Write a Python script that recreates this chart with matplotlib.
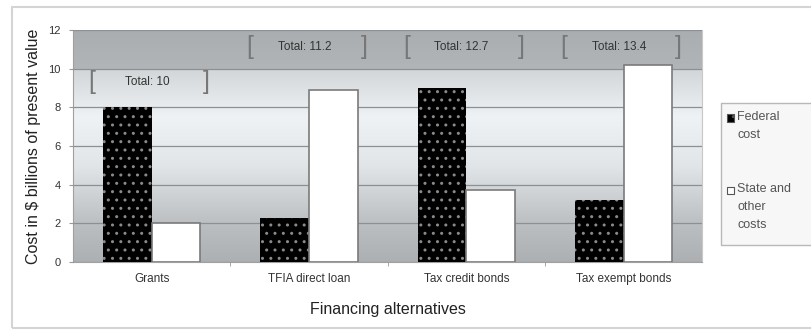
import numpy as np
import matplotlib
matplotlib.use("Agg")
from matplotlib import pyplot as plt
from matplotlib.patches import Rectangle

categories = ["Grants", "TFIA direct loan", "Tax credit bonds", "Tax exempt bonds"]
federal = [8.0, 2.3, 9.0, 3.2]
state_other = [2.0, 8.9, 3.7, 10.2]
totals = ["10", "11.2", "12.7", "13.4"]
total_y = [9.3, 11.15, 11.15, 11.15]
series_labels = ["Federal\ncost", "State and\nother\ncosts"]

plt.rcParams["font.family"] = ["Liberation Sans", "DejaVu Sans"]

W, H = 811, 331
fig = plt.figure(figsize=(W / 100, H / 100), dpi=100)

# outer chart frame (runs off the right edge, as in the source)
fig.patches.append(Rectangle((12 / W, 1 - 328 / H), 1.0, 321 / H, transform=fig.transFigure,
                             fill=False, edgecolor="#d4d4d4", linewidth=1.5))

ax = fig.add_axes([0.090, 0.2085, 0.776, 0.7005])

# grey gradient background (slightly bluish)
yy = np.linspace(0, 12, 400)
shade = np.interp(yy, [0, 2, 5, 7.5, 9.95, 10.0, 12], [0.69, 0.75, 0.90, 0.95, 0.84, 0.71, 0.68])
rgb = np.stack([shade - 0.015, shade, shade + 0.01], axis=-1).clip(0, 1)[:, None, :]
ax.imshow(rgb, extent=[-0.5, 3.5, 0, 12], origin="lower", aspect="auto", zorder=0)

x = np.arange(len(categories))
w = 0.31
fed_style = dict(facecolor="black", edgecolor="#8a8a8a", hatch="..", linewidth=0)
st_style = dict(facecolor="white", edgecolor="#7a7a7a", linewidth=1.2)
ax.bar(x - w / 2, federal, w, zorder=3, **fed_style)
ax.bar(x + w / 2, state_other, w, zorder=3, **st_style)

for xi, t, ty in zip(x, totals, total_y):
    ax.text(xi - 0.03, ty, "Total: " + t, ha="center", va="center", fontsize=8.5, color="#333333", zorder=4)
    ax.text(xi - 0.38, ty, "[", ha="center", va="center", fontsize=18, color="#777777", zorder=4)
    ax.text(xi + 0.35, ty, "]", ha="center", va="center", fontsize=18, color="#777777", zorder=4)

ax.set_xlim(-0.5, 3.5)
ax.set_ylim(0, 12)
ax.set_yticks(range(0, 13, 2))
ax.yaxis.grid(True, color="#8c9094", linewidth=0.9, zorder=1)
ax.set_axisbelow(False)
ax.set_xticks(x)
ax.set_xticklabels(categories, fontsize=8.5, color="#333333")
ax.set_xticks([0.5, 1.5, 2.5], minor=True)
ax.tick_params(axis="x", which="major", length=0, pad=8)
ax.tick_params(axis="x", which="minor", length=3, color="#999999", direction="out")
ax.tick_params(axis="y", labelsize=8, labelcolor="#333333", length=3, color="#999999", pad=6)
for s in ["left", "bottom"]:
    ax.spines[s].set_color("#a0a0a0")
ax.spines["top"].set_visible(False)
ax.spines["right"].set_color("#c8c8c8")

ax.set_ylabel("Cost in $ billions of present value", fontsize=11.5, color="#222222", labelpad=5)
ax.set_xlabel("Financing alternatives", fontsize=11.5, color="#222222", labelpad=12)

# legend drawn by hand so the key sits beside the first line of each label
fig.patches.append(Rectangle((721 / W, 1 - 245 / H), 100 / W, 142 / H, transform=fig.transFigure,
                             facecolor="#f7f7f7", edgecolor="#b8b8b8", linewidth=1.0))
for lab, style, ymid in zip(series_labels, [fed_style, st_style], [118, 190]):
    fig.patches.append(Rectangle((727 / W, 1 - (ymid + 3.5) / H), 7 / W, 7 / H,
                                 transform=fig.transFigure, zorder=5,
                                 **dict(style, linewidth=0.8, edgecolor="#555555")))
    fig.text(737 / W, 1 - (ymid - 7) / H, lab, ha="left", va="top", fontsize=9,
             color="#555555", linespacing=1.65)

fig.savefig("out.png", dpi=100)
